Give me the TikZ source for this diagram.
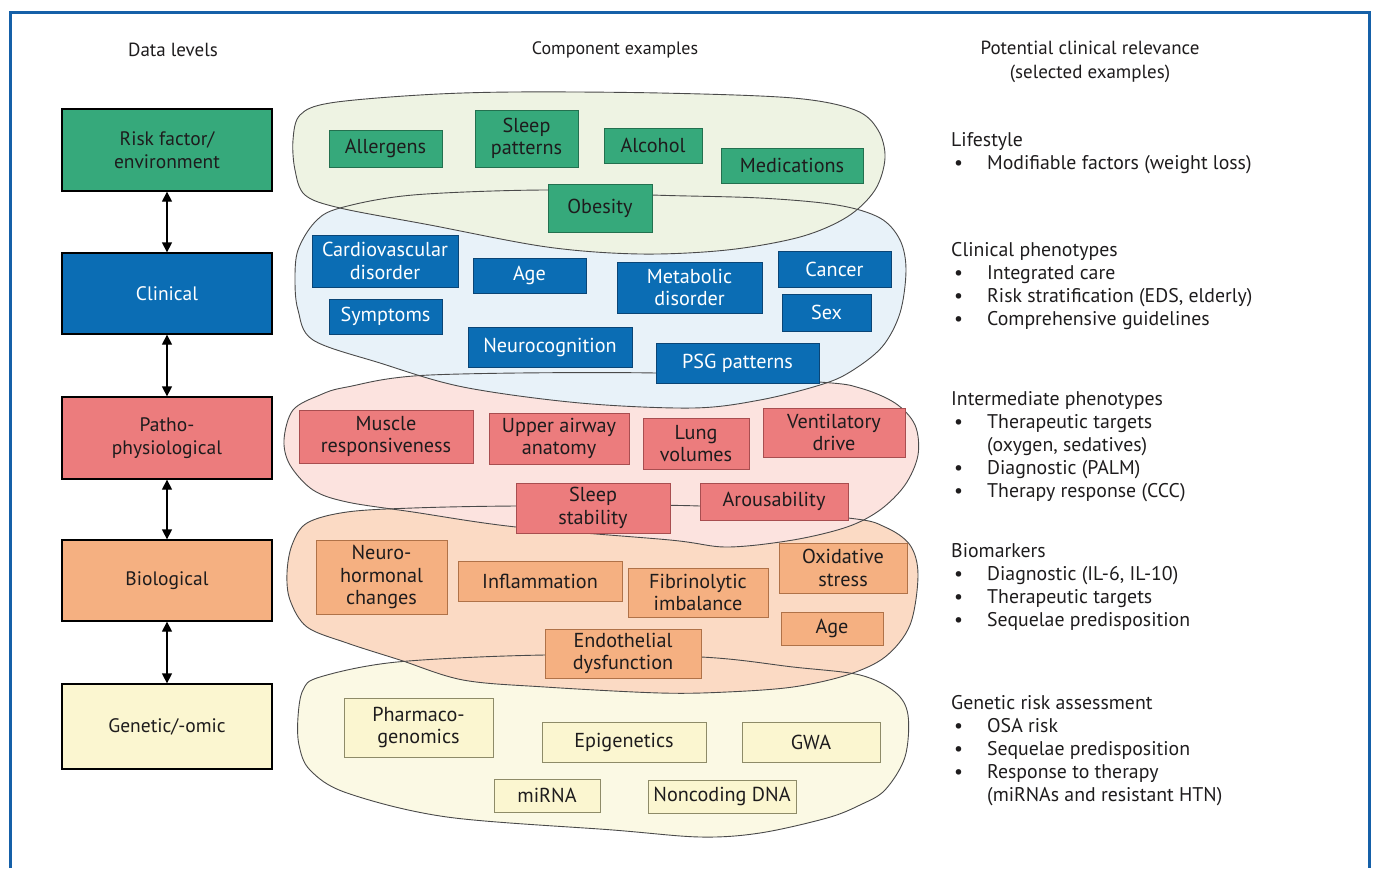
\documentclass[tikz,border=0pt]{standalone}
\usepackage{fontspec}
\setmainfont{PT Sans}
\usetikzlibrary{arrows.meta}

\definecolor{framecol}{HTML}{1560A8}
\definecolor{inkcol}{HTML}{1E1C1D}
\definecolor{blobline}{HTML}{4A4A4A}
% level colours: box fill, box rule, cloud fill
\definecolor{gfill}{HTML}{36A97B}\definecolor{gline}{HTML}{23704F}\definecolor{gcloud}{HTML}{EEF3E3}
\definecolor{bfill}{HTML}{0B6DB4}\definecolor{bline}{HTML}{0A4576}\definecolor{bcloud}{HTML}{E8F2F9}
\definecolor{rfill}{HTML}{EC7C7D}\definecolor{rline}{HTML}{A84E50}\definecolor{rcloud}{HTML}{FCE3DF}
\definecolor{ofill}{HTML}{F5B081}\definecolor{oline}{HTML}{B07248}\definecolor{ocloud}{HTML}{FBDAC4}
\definecolor{yfill}{HTML}{FBF6D0}\definecolor{yline}{HTML}{8E8B68}\definecolor{ycloud}{HTML}{FBF9E4}

\newcommand\bulitem{\hspace*{3pt}\makebox[33pt][l]{\textbullet}}
\newcommand\hang{\hspace*{36pt}}

\begin{document}
\begin{tikzpicture}[x=1pt,y=-1pt,
  every node/.style={text=inkcol},
  frame/.style={draw=framecol, line width=3pt},
  lvl/.style={draw=black, line width=1.3pt, minimum width=210, inner sep=0,
    align=center, font=\fontsize{19.5}{23}\selectfont},
  comp/.style={line width=0.9pt, inner sep=0, align=center,
    font=\fontsize{20.2}{22.5}\selectfont},
  gbox/.style={comp, fill=gfill, draw=gline},
  bbox/.style={comp, fill=bfill, draw=bline, text=white},
  rbox/.style={comp, fill=rfill, draw=rline},
  obox/.style={comp, fill=ofill, draw=oline},
  ybox/.style={comp, fill=yfill, draw=yline},
  cloud/.style={draw=blobline, line width=0.9pt},
  dbl/.style={{Triangle[width=10pt,length=10pt]}-{Triangle[width=10pt,length=10pt]}, line width=1.3pt, black},
  hdr/.style={font=\fontsize{19}{24}\selectfont, align=center, inner sep=0},
  rel/.style={font=\fontsize{19.8}{23}\selectfont, align=left, anchor=north west, inner sep=0}
]
\useasboundingbox (0,0) rectangle (1373,868);

% open frame (no rule along the bottom)
\draw[frame] (10,868) -- (10,12) -- (1369,12) -- (1369,868);

% column headings
\node[hdr] (hlev) at (173,50) {Data levels};
\node[hdr, font=\fontsize{18}{24}\selectfont] (hcomp) at (615,50) {Component examples};
\node[hdr] (hrel) at (1090,62) {Potential clinical relevance\\(selected examples)};

% clouds, filled from the bottom layer up
\def\gcloudpath{plot[smooth cycle, tension=0.55] coordinates {(293,140) (300,115) (330,103) (420,95) (513,92) (660,93) (793,98) (855,110) (878,130) (885,158) (875,190) (847,217) (800,237) (727,250) (640,254) (547,247) (430,225) (340,208) (305,195) (295,170)}}
\def\bcloudpath{plot[smooth cycle, tension=0.55] coordinates {(295,280) (298,250) (315,222) (340,208) (413,195) (548,190) (652,195) (760,198) (837,205) (880,218) (900,240) (906,270) (900,313) (882,347) (850,372) (820,385) (760,400) (693,408) (580,403) (463,387) (380,363) (313,340) (298,310)}}
\def\rcloudpath{plot[smooth cycle, tension=0.55] coordinates {(284,440) (293,410) (320,395) (347,387) (430,375) (656,373) (819,382) (860,388) (895,403) (915,425) (918,455) (905,485) (880,510) (847,527) (793,540) (727,547) (670,540) (516,527) (413,512) (347,502) (313,490) (290,465)}}
\def\ocloudpath{plot[smooth cycle, tension=0.55] coordinates {(287,573) (292,545) (307,523) (347,512) (413,508) (516,506) (700,506) (848,518) (885,527) (910,545) (918,575) (910,625) (885,657) (847,675) (793,687) (727,692) (660,693) (545,687) (463,680) (400,660) (347,643) (307,627) (290,600)}}
\def\ycloudpath{plot[smooth cycle, tension=0.55] coordinates {(298,717) (303,690) (320,677) (397,662) (545,655) (701,657) (793,667) (860,675) (895,692) (908,715) (905,757) (885,790) (860,805) (827,818) (760,833) (700,837) (613,830) (447,817) (347,793) (310,770) (299,745)}}

\fill[ycloud] \ycloudpath;
\fill[ocloud] \ocloudpath;
\fill[rcloud] \rcloudpath;
\fill[bcloud] \bcloudpath;
\fill[gcloud] \gcloudpath;
\draw[cloud] \ycloudpath;
\draw[cloud] \ocloudpath;
\draw[cloud] \rcloudpath;
\draw[cloud] \bcloudpath;
\draw[cloud] \gcloudpath;

% data levels
\node[lvl, fill=gfill, minimum height=82] (risk) at (167,150) {Risk factor/\\environment};
\node[lvl, fill=bfill, minimum height=81, text=white] (clin) at (167,293.5) {Clinical};
\node[lvl, fill=rfill, minimum height=82] (patho) at (167,438) {Patho-\\physiological};
\node[lvl, fill=ofill, minimum height=81] (bio) at (167,580.5) {Biological};
\node[lvl, fill=yfill, minimum height=85] (gen) at (167,726.5) {Genetic/-omic};

\draw[dbl] (risk) -- (clin);
\draw[dbl] (clin) -- (patho);
\draw[dbl] (patho) -- (bio);
\draw[dbl] (bio) -- (gen);

% risk factor / environment
\node[gbox, minimum width=113, minimum height=37] (allerg) at (385.5,148.5) {Allergens};
\node[gbox, minimum width=103, minimum height=57] (sleeppat) at (526.5,138.5) {Sleep\\patterns};
\node[gbox, minimum width=98, minimum height=35] (alcohol) at (653,145.5) {Alcohol};
\node[gbox, minimum width=142, minimum height=35] (medic) at (792,165.5) {Medications};
\node[gbox, minimum width=104, minimum height=48] (obesity) at (600,208) {Obesity};

% clinical
\node[bbox, minimum width=146, minimum height=52] (cardio) at (385,261) {Cardiovascular\\disorder};
\node[bbox, minimum width=113, minimum height=35] (cage) at (529.5,275.5) {Age};
\node[bbox, minimum width=145, minimum height=51] (metab) at (689.5,287.5) {Metabolic\\disorder};
\node[bbox, minimum width=113, minimum height=36] (cancer) at (834.5,269) {Cancer};
\node[bbox, minimum width=89, minimum height=37] (sex) at (826.5,312.5) {Sex};
\node[bbox, minimum width=113, minimum height=35] (sympt) at (385.5,316.5) {Symptoms};
\node[bbox, minimum width=164, minimum height=40] (neuro) at (550,347) {Neurocognition};
\node[bbox, minimum width=163, minimum height=40] (psg) at (737.5,363) {PSG patterns};

% pathophysiological
\node[rbox, minimum width=174, minimum height=53] (muscle) at (386,436.5) {Muscle\\responsiveness};
\node[rbox, minimum width=140, minimum height=51] (upper) at (559,438.5) {Upper airway\\anatomy};
\node[rbox, minimum width=106, minimum height=51] (lung) at (696,443.5) {Lung\\volumes};
\node[rbox, minimum width=142, minimum height=49] (vent) at (834,432.5) {Ventilatory\\drive};
\node[rbox, minimum width=154, minimum height=50] (sleepstab) at (593,508) {Sleep\\stability};
\node[rbox, minimum width=148, minimum height=37] (arous) at (774,501.5) {Arousability};

% biological
\node[obox, minimum width=131, minimum height=74] (neurohorm) at (381.5,577) {Neuro-\\hormonal\\changes};
\node[obox, minimum width=164, minimum height=40] (inflam) at (540,581) {Inflammation};
\node[obox, minimum width=140, minimum height=49] (fibrin) at (698,592.5) {Fibrinolytic\\imbalance};
\node[obox, minimum width=128, minimum height=50] (oxid) at (843,568) {Oxidative\\stress};
\node[obox, minimum width=102, minimum height=33] (bage) at (832,628.5) {Age};
\node[obox, minimum width=156, minimum height=49] (endo) at (623,653.5) {Endothelial\\dysfunction};

% genetic / omic
\node[ybox, minimum width=149, minimum height=59] (pharm) at (418.5,727.5) {Pharmaco-\\genomics};
\node[ybox, minimum width=164, minimum height=40] (epi) at (624,742) {Epigenetics};
\node[ybox, minimum width=138, minimum height=40] (gwa) at (811,742) {GWA};
\node[ybox, minimum width=106, minimum height=33] (mirna) at (547,795.5) {miRNA};
\node[ybox, minimum width=148, minimum height=33] (noncod) at (722,796.5) {Noncoding DNA};

% clinical relevance
\node[rel] (rlife) at (951,132) {Lifestyle\\
  \bulitem Modifiable factors (weight loss)};
\node[rel] (rclin) at (951,242) {Clinical phenotypes\\
  \bulitem Integrated care\\
  \bulitem Risk stratification (EDS, elderly)\\
  \bulitem Comprehensive guidelines};
\node[rel] (rinter) at (951,391) {Intermediate phenotypes\\
  \bulitem Therapeutic targets\\
  \hang (oxygen, sedatives)\\
  \bulitem Diagnostic (PALM)\\
  \bulitem Therapy response (CCC)};
\node[rel] (rbio) at (951,543) {Biomarkers\\
  \bulitem Diagnostic (IL-6, IL-10)\\
  \bulitem Therapeutic targets\\
  \bulitem Sequelae predisposition};
\node[rel] (rgen) at (951,695) {Genetic risk assessment\\
  \bulitem OSA risk\\
  \bulitem Sequelae predisposition\\
  \bulitem Response to therapy\\
  \hang (miRNAs and resistant HTN)};
\end{tikzpicture}
\end{document}
